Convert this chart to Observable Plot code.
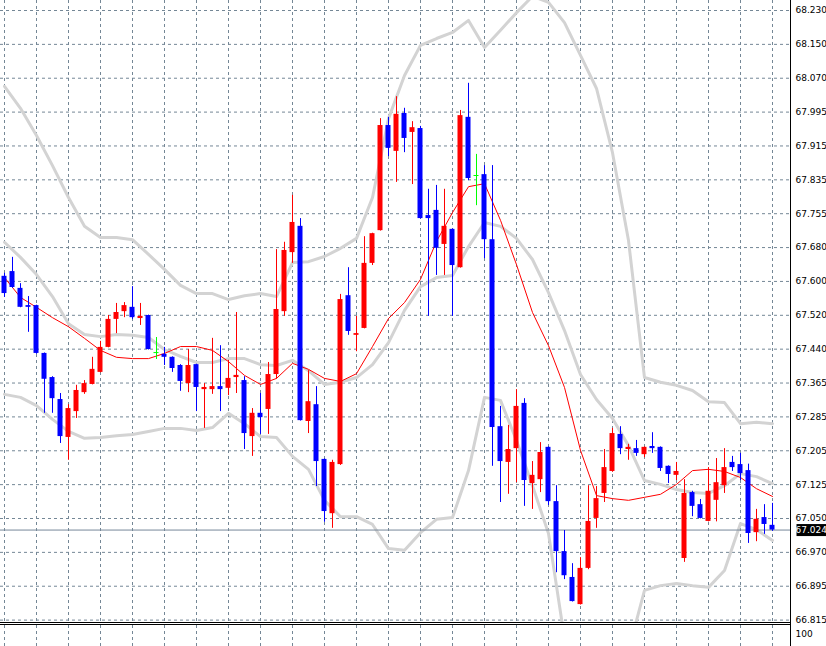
<!DOCTYPE html>
<html><head><meta charset="utf-8">
<script src="https://cdn.jsdelivr.net/npm/d3@7"></script>
<script src="https://cdn.jsdelivr.net/npm/@observablehq/plot@0.6"></script>
<style>
html,body{margin:0;padding:0;background:#fff;}
#wrap{position:relative;width:826px;height:646px;overflow:hidden;background:#fff;}
#wrap svg{display:block;}
#main{position:relative;z-index:2;height:622px;}
#main svg{overflow:visible;background:transparent !important;}
#sep{width:790px;height:3px;border-top:1px solid #000;border-bottom:1px solid #000;box-sizing:border-box;}
#axisline{position:absolute;left:790px;top:0;width:1px;height:646px;background:#000;z-index:3;}
</style></head><body>
<div id="wrap"><div id="main"></div><div id="sep"></div><div id="sub"></div><div id="axisline"></div></div>
<script>
// ---- price axis tick labels ----
const tickLabels = ["68.230","68.150","68.070","67.995","67.915","67.835","67.755","67.680","67.600","67.520","67.440","67.365","67.285","67.205","67.125","67.050","66.970","66.895","66.815"];
const subLabel = 100;

// ---- candles (one per bar) ----
const opens = [
67.613,67.624,67.585,67.545,67.545,67.434,67.378,67.327,67.239,67.299,
67.343,67.362,67.390,67.448,67.513,67.531,67.541,67.515,67.522,67.436,
67.432,67.425,67.406,67.364,67.408,67.350,67.350,67.357,67.353,67.378,
67.371,67.241,67.295,67.304,67.385,67.531,67.668,67.729,67.276,67.315,
67.188,67.062,67.176,67.568,67.476,67.492,67.643,67.719,67.963,67.903,
67.991,67.947,67.956,67.754,67.766,67.687,67.722,67.633,67.982,67.847,
67.849,67.698,67.264,67.181,67.213,67.318,67.132,67.141,67.216,67.090,
66.974,66.914,66.851,66.935,67.051,67.109,67.160,67.246,67.211,67.213,
67.199,67.218,67.216,67.172,67.151,66.958,67.111,67.083,67.044,67.093,
67.127,67.181,67.176,67.162,67.018,67.053,67.035];
const highs = [
67.620,67.657,67.596,67.566,67.546,67.435,67.380,67.341,67.315,67.360,
67.371,67.425,67.462,67.522,67.550,67.552,67.589,67.550,67.523,67.471,
67.448,67.426,67.408,67.443,67.409,67.364,67.469,67.452,67.418,67.529,
67.380,67.306,67.341,67.413,67.675,67.692,67.801,67.747,67.394,67.357,
67.189,67.186,67.571,67.633,67.520,67.705,67.713,67.979,67.982,68.030,
68.003,67.972,67.961,67.815,67.824,67.815,67.723,67.998,68.061,67.896,
67.870,67.870,67.311,67.267,67.350,67.329,67.183,67.227,67.217,67.127,
67.023,66.946,66.960,67.127,67.125,67.211,67.260,67.264,67.223,67.232,
67.217,67.250,67.217,67.173,67.181,67.141,67.114,67.095,67.169,67.190,
67.213,67.195,67.202,67.177,67.072,67.083,67.086];
const lows = [
67.564,67.585,67.540,67.483,67.432,67.295,67.295,67.225,67.186,67.283,
67.339,67.361,67.389,67.447,67.480,67.517,67.513,67.499,67.442,67.420,
67.406,67.390,67.346,67.343,67.299,67.260,67.339,67.299,67.336,67.341,
67.211,67.195,67.246,67.246,67.374,67.520,67.643,67.277,67.248,67.125,
67.042,67.028,67.174,67.476,67.438,67.491,67.638,67.718,67.891,67.831,
67.900,67.826,67.746,67.520,67.615,67.615,67.520,67.632,67.835,67.777,
67.654,67.172,67.088,67.107,67.134,67.079,67.072,67.111,67.081,66.925,
66.909,66.857,66.850,66.932,67.028,67.088,67.158,67.199,67.186,67.195,
67.192,67.202,67.160,67.132,67.139,66.949,67.055,67.050,67.043,67.043,
67.109,67.160,67.139,66.993,66.997,67.014,67.021];
const closes = [
67.573,67.587,67.541,67.541,67.434,67.374,67.329,67.241,67.306,67.348,
67.364,67.397,67.448,67.513,67.529,67.545,67.517,67.520,67.443,67.436,
67.425,67.399,67.369,67.406,67.355,67.355,67.357,67.350,67.376,67.383,
67.248,67.295,67.285,67.385,67.536,67.673,67.738,67.278,67.322,67.183,
67.067,67.181,67.559,67.485,67.480,67.643,67.712,67.963,67.910,67.989,
67.933,67.958,67.747,67.747,67.678,67.729,67.638,67.986,67.840,67.847,
67.698,67.262,67.183,67.211,67.311,67.139,67.151,67.204,67.090,66.974,
66.918,66.858,66.935,67.044,67.097,67.169,67.248,67.213,67.216,67.202,
67.216,67.213,67.167,67.153,67.160,67.109,67.079,67.051,67.114,67.134,
67.169,67.169,67.155,67.016,67.049,67.037,67.024];

// ---- indicator lines, read at every second bar (bars 0,2,4,...,96) ----
const bandUpper = [
68.054,68.003,67.940,67.870,67.796,67.729,67.703,67.703,67.698,67.664,
67.629,67.592,67.573,67.573,67.559,67.568,67.573,67.566,67.645,67.647,
67.659,67.678,67.701,67.796,67.979,68.079,68.149,68.165,68.179,68.207,
68.144,68.184,68.225,68.263,68.249,68.202,68.126,68.049,67.900,67.696,
67.378,67.367,67.360,67.348,67.322,67.320,67.271,67.274,67.271];
const bandMiddle = [
67.692,67.657,67.617,67.566,67.503,67.478,67.473,67.478,67.476,67.471,
67.443,67.427,67.413,67.413,67.422,67.422,67.408,67.406,67.418,67.394,
67.362,67.367,67.378,67.408,67.459,67.534,67.589,67.610,67.615,67.682,
67.738,67.729,67.701,67.652,67.575,67.487,67.385,67.327,67.283,67.220,
67.139,67.130,67.118,67.111,67.109,67.127,67.155,67.148,67.132];
const bandLower = [
67.339,67.332,67.313,67.281,67.253,67.237,67.239,67.243,67.246,67.253,
67.260,67.260,67.255,67.262,67.295,67.271,67.241,67.239,67.195,67.165,
67.093,67.055,67.055,67.037,66.981,66.977,67.018,67.049,67.053,67.162,
67.332,67.325,67.232,67.127,67.016,66.772,66.645,66.598,66.666,66.744,
66.884,66.895,66.900,66.895,66.891,66.930,67.039,67.025,67.000];
const maLine = [
67.610,67.564,67.541,67.517,67.496,67.469,67.441,67.425,67.422,67.422,
67.434,67.450,67.450,67.441,67.415,67.383,67.362,67.376,67.411,67.397,
67.376,67.369,67.387,67.450,67.515,67.552,67.606,67.694,67.761,67.821,
67.828,67.743,67.640,67.529,67.452,67.355,67.209,67.104,67.097,67.093,
67.100,67.107,67.130,67.162,67.165,67.160,67.146,67.120,67.102];

// ---- build ----
const GRID = "#748796";
const DASH = "3,3";
const nBars = opens.length;
const xScale = {type: "linear", domain: [0, nBars - 1], range: [4, 4 + 8 * (nBars - 1)], axis: null};
const yTop = +tickLabels[0], yBot = +tickLabels[tickLabels.length - 1];
const yScale = {type: "linear", domain: [yBot, yTop], range: [619.6, 10]};
const nT = tickLabels.length;
const tickVals = tickLabels.map((_, k) => yTop - k * (yTop - yBot) / (nT - 1));
const labelOf = new Map(tickVals.map((v, k) => [v, tickLabels[k]]));
const gridBars = d3.range(0, nBars, 4);
const candles = opens.map((o, i) => ({i, o, h: highs[i], l: lows[i], c: closes[i]}));
const col = d => d.c > d.o ? "#ff0000" : d.c < d.o ? "#0000ff" : "#00ff00";
const series = arr => arr.map((v, k) => ({i: 2 * k, v}));
const half = 2.5 / 8;
const last = closes[nBars - 1];
const lastText = last.toFixed(3);
const font = {fontFamily: "DejaVu Sans", fontSize: "9px", color: "#000", background: "#fff"};

const main = Plot.plot({
  width: 826, height: 622,
  marginTop: 0, marginRight: 36, marginBottom: 0, marginLeft: 0,
  x: xScale, y: yScale, color: {type: "identity"},
  style: font,
  marks: [
    Plot.ruleX(gridBars, {x: d => d, stroke: GRID, strokeDasharray: DASH}),
    Plot.ruleY(tickVals, {y: d => d, stroke: GRID, strokeDasharray: DASH}),
    Plot.line(series(bandUpper), {x: "i", y: "v", stroke: "#d3d3d3", strokeWidth: 3, clip: true}),
    Plot.line(series(bandMiddle), {x: "i", y: "v", stroke: "#d3d3d3", strokeWidth: 3, clip: true}),
    Plot.line(series(bandLower), {x: "i", y: "v", stroke: "#d3d3d3", strokeWidth: 3, clip: true}),
    Plot.line(series(maLine), {x: "i", y: "v", stroke: "#ff0000", strokeWidth: 1, clip: true}),
    Plot.ruleY([last], {y: d => d, stroke: "#778899"}),
    Plot.ruleX(candles, {x: "i", y1: "l", y2: "h", stroke: col}),
    Plot.rect(candles.filter(d => d.o !== d.c), {x1: d => d.i - half, x2: d => d.i + half, y1: "o", y2: "c", fill: col}),
    Plot.ruleY(candles.filter(d => d.o === d.c), {y: "c", x1: d => d.i - half, x2: d => d.i + half, stroke: col}),
    Plot.axisY({anchor: "right", ticks: tickVals, tickFormat: d => labelOf.get(d), tickSize: 0, tickPadding: 5, label: null}),
    Plot.text([last], {y: d => d, text: () => lastText, frameAnchor: "right", textAnchor: "start", dx: 5, fill: "#ffffff"})
  ]
});
document.getElementById("main").appendChild(main);

// black box behind the current price label
for (const t of main.querySelectorAll("text")) {
  if (t.textContent === lastText && (t.getAttribute("fill") === "#ffffff" || (t.parentNode.getAttribute("fill") || "") === "#ffffff")) {
    const bb = t.getBBox();
    const r = document.createElementNS("http://www.w3.org/2000/svg", "rect");
    r.setAttribute("x", 791); r.setAttribute("y", Math.round(bb.y) - 1);
    r.setAttribute("width", 35); r.setAttribute("height", Math.round(bb.height) + 2);
    r.setAttribute("fill", "#000");
    const tr = t.getAttribute("transform");
    if (tr) r.setAttribute("transform", tr.replace(/translate\(([^,]+),\s*([^)]+)\)/, (m, a, b) => `translate(0,${b})`));
    t.parentNode.insertBefore(r, t);
  }
}

const sub = Plot.plot({
  width: 826, height: 21,
  marginTop: 0, marginRight: 36, marginBottom: 0, marginLeft: 0,
  x: xScale, style: font,
  marks: [
    Plot.ruleX(gridBars, {x: d => d, stroke: GRID, strokeDasharray: DASH}),
    Plot.text([subLabel], {text: d => String(d), frameAnchor: "top-right", textAnchor: "start", dx: 5, dy: 5})
  ]
});
document.getElementById("sub").appendChild(sub);
</script>
</body></html>
